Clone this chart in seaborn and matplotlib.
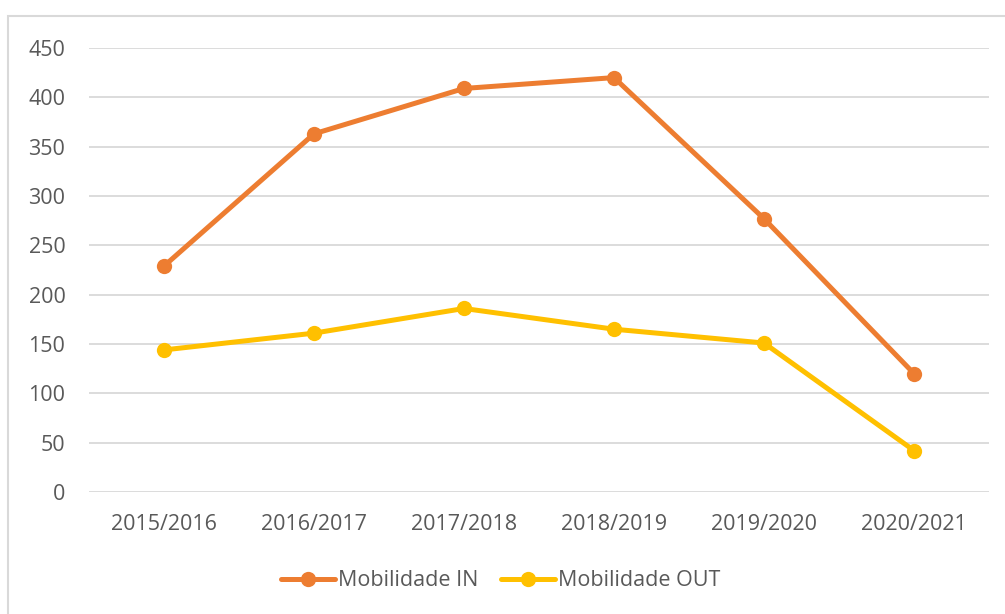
import matplotlib.pyplot as plt
import pandas as pd
import seaborn as sns
from matplotlib.patches import Rectangle

anos = ["2015/2016", "2016/2017", "2017/2018", "2018/2019", "2019/2020", "2020/2021"]
mob_in = [229, 363, 409, 420, 277, 120]
mob_out = [144, 161, 186, 165, 151, 42]
series = ["Mobilidade IN", "Mobilidade OUT"]
cores = ["#ED7D31", "#FFC000"]

df = pd.concat(
    [
        pd.DataFrame({"ano": anos, "valor": mob_in, "serie": series[0]}),
        pd.DataFrame({"ano": anos, "valor": mob_out, "serie": series[1]}),
    ]
)

sns.set_style("white")
plt.rcParams["font.family"] = ["Open Sans", "DejaVu Sans"]

fig = plt.figure(figsize=(10.05, 6.14), dpi=100)
ax = fig.add_axes([89 / 1005, 1 - 492 / 614, 900 / 1005, 444 / 614])

sns.lineplot(
    data=df,
    x="ano",
    y="valor",
    hue="serie",
    palette=cores,
    marker="o",
    markersize=11,
    markeredgewidth=0,
    linewidth=3.6,
    ax=ax,
    sort=False,
)

ax.set_xlim(-0.5, 5.5)
ax.set_ylim(0, 450)
ax.set_yticks(range(0, 451, 50))
ax.grid(axis="y", color="#D9D9D9", linewidth=1.3)
ax.set_axisbelow(True)
for s in ax.spines.values():
    s.set_visible(False)
ax.tick_params(axis="both", length=0, labelsize=15.5, labelcolor="#595959")
ax.tick_params(axis="x", pad=16)
ax.tick_params(axis="y", pad=17)
ax.set_xlabel("")
ax.set_ylabel("")

handles, labels = ax.get_legend_handles_labels()
ax.get_legend().remove()
fig.legend(
    handles,
    labels,
    loc="center",
    bbox_to_anchor=(501 / 1005, 1 - 581 / 614),
    ncol=2,
    frameon=False,
    fontsize=15.5,
    labelcolor="#595959",
    handlelength=2.5,
    handletextpad=0.15,
    columnspacing=1.05,
)

fig.patches.append(
    Rectangle(
        (8 / 1005, -0.05),
        1.2,
        1 - 16 / 614 + 0.05,
        transform=fig.transFigure,
        fill=False,
        edgecolor="#D9D9D9",
        linewidth=1.5,
    )
)

fig.savefig("out.png", dpi=100)
